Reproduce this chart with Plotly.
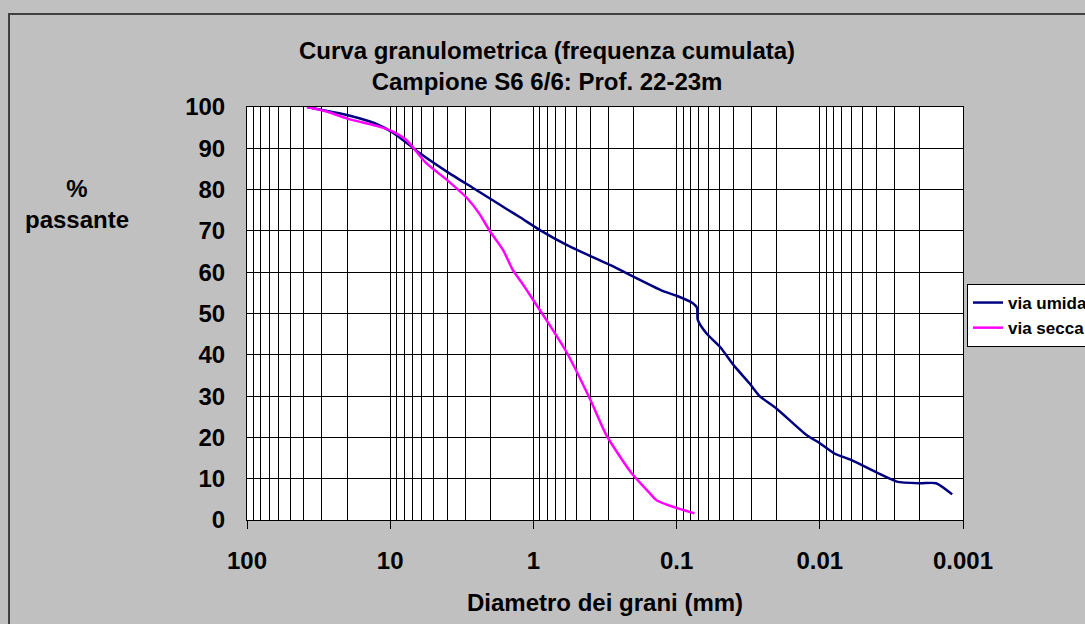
import plotly.graph_objects as go

# Grain-size distribution, sample S6 6/6 (22-23 m depth)
# diameters in mm, cumulative percent passing

umida_d = [38.1, 25.4, 19.1, 12.7, 9.5, 6.2, 4.0, 2.64, 2.0, 1.54, 1.24, 0.90,
           0.60, 0.40, 0.29, 0.124, 0.10, 0.077, 0.072, 0.0712, 0.062, 0.050,
           0.040, 0.031, 0.0263, 0.0201, 0.0124, 0.010, 0.0079, 0.0060, 0.0039,
           0.0029, 0.0020, 0.00154, 0.00119]
umida_p = [100, 98.8, 97.9, 96.0, 93.7, 88.8, 84.3, 80.4, 77.8, 75.3, 73.3, 70.2,
           66.8, 63.9, 61.7, 55.4, 54.3, 52.5, 51.4, 48.5, 45.2, 42.0,
           37.5, 33.1, 30.0, 27.0, 20.6, 18.6, 16.1, 14.5, 11.3,
           9.3, 8.9, 8.9, 6.2]

secca_d = [38.1, 27.8, 19.1, 11.8, 9.5, 7.7, 5.6, 4.0, 2.9, 2.4, 2.0, 1.63,
           1.39, 1.18, 1.0, 0.81, 0.59, 0.40, 0.31, 0.21, 0.154, 0.138, 0.106, 0.075]
secca_p = [100, 98.9, 97.0, 95.2, 94.0, 92.0, 86.4, 82.3, 77.9, 74.3, 69.8, 65.4,
           60.5, 57.0, 53.2, 48.4, 40.8, 29.1, 20.6, 11.7, 6.5, 4.8, 3.2, 1.6]

x_tick_vals = [100, 10, 1, 0.1, 0.01, 0.001]
x_tick_text = ["100", "10", "1", "0.1", "0.01", "0.001"]
y_tick_vals = [0, 10, 20, 30, 40, 50, 60, 70, 80, 90, 100]

# intermediate log gridlines (2..9 in every decade)
minor_vals = [m * 10.0 ** e for e in range(-3, 2) for m in range(2, 10)]

W, H = 1085, 624
L, R, T, B = 247, 122, 107, 104
PW, PH = W - L - R, H - T - B


def px(xpix):
    return (xpix - L) / PW


def py(ypix):
    return (H - B - ypix) / PH


FONT = "Liberation Sans, Arial, sans-serif"

fig = go.Figure()
fig.add_trace(go.Scatter(
    x=umida_d, y=umida_p, name="via umida", mode="lines",
    line=dict(color="#000080", width=2.5, shape="spline", smoothing=0.6),
))
fig.add_trace(go.Scatter(
    x=secca_d, y=secca_p, name="via secca", mode="lines",
    line=dict(color="#FF00FF", width=2.5, shape="spline", smoothing=0.6),
))

fig.update_layout(
    width=W, height=H,
    margin=dict(l=L, r=R, t=T, b=B, autoexpand=False),
    paper_bgcolor="#C0C0C0",
    plot_bgcolor="#FFFFFF",
    font=dict(family=FONT, color="#000000"),
    showlegend=True,
    legend=dict(
        x=px(967), y=py(284), xanchor="left", yanchor="top",
        bgcolor="#FFFFFF", bordercolor="#000000", borderwidth=1,
        font=dict(family=FONT, size=17, weight="bold", color="#000000"),
        tracegroupgap=2,
    ),
    xaxis=dict(
        type="log", range=[2, -3], autorange=False,
        tickmode="array", tickvals=x_tick_vals, ticktext=x_tick_text,
        ticks="outside", ticklen=8, tickcolor="#000000", tickwidth=1,
        ticklabelstandoff=11,
        tickfont=dict(family=FONT, size=24, weight="bold", color="#000000"),
        showgrid=True, gridcolor="#000000", gridwidth=1,
        minor=dict(tickvals=minor_vals, showgrid=True, gridcolor="#000000",
                   gridwidth=1, ticks=""),
        showline=True, linecolor="#000000", linewidth=1, mirror=True,
        zeroline=False,
    ),
    yaxis=dict(
        range=[0, 100], autorange=False,
        tickmode="array", tickvals=y_tick_vals,
        ticks="", ticklabelstandoff=16,
        tickfont=dict(family=FONT, size=24, weight="bold", color="#000000"),
        showgrid=True, gridcolor="#000000", gridwidth=1,
        showline=True, linecolor="#000000", linewidth=1, mirror=True,
        zeroline=False,
    ),
    annotations=[
        dict(text="Curva granulometrica (frequenza cumulata)<br>Campione S6 6/6: Prof. 22-23m",
             xref="paper", yref="paper", x=px(547), y=py(66),
             xanchor="center", yanchor="middle", showarrow=False,
             font=dict(family=FONT, size=24, weight="bold", color="#000000")),
        dict(text="%<br>passante",
             xref="paper", yref="paper", x=px(77), y=py(204),
             xanchor="center", yanchor="middle", showarrow=False,
             font=dict(family=FONT, size=24, weight="bold", color="#000000")),
        dict(text="Diametro dei grani (mm)",
             xref="paper", yref="paper", x=px(605), y=py(602),
             xanchor="center", yanchor="middle", showarrow=False,
             font=dict(family=FONT, size=24, weight="bold", color="#000000")),
    ],
    shapes=[
        dict(type="rect", xref="paper", yref="paper",
             x0=px(9), x1=px(1100), y0=py(640), y1=py(14),
             line=dict(color="#404040", width=2), fillcolor="rgba(0,0,0,0)",
             layer="below"),
    ],
)

fig.write_html("out.html")
